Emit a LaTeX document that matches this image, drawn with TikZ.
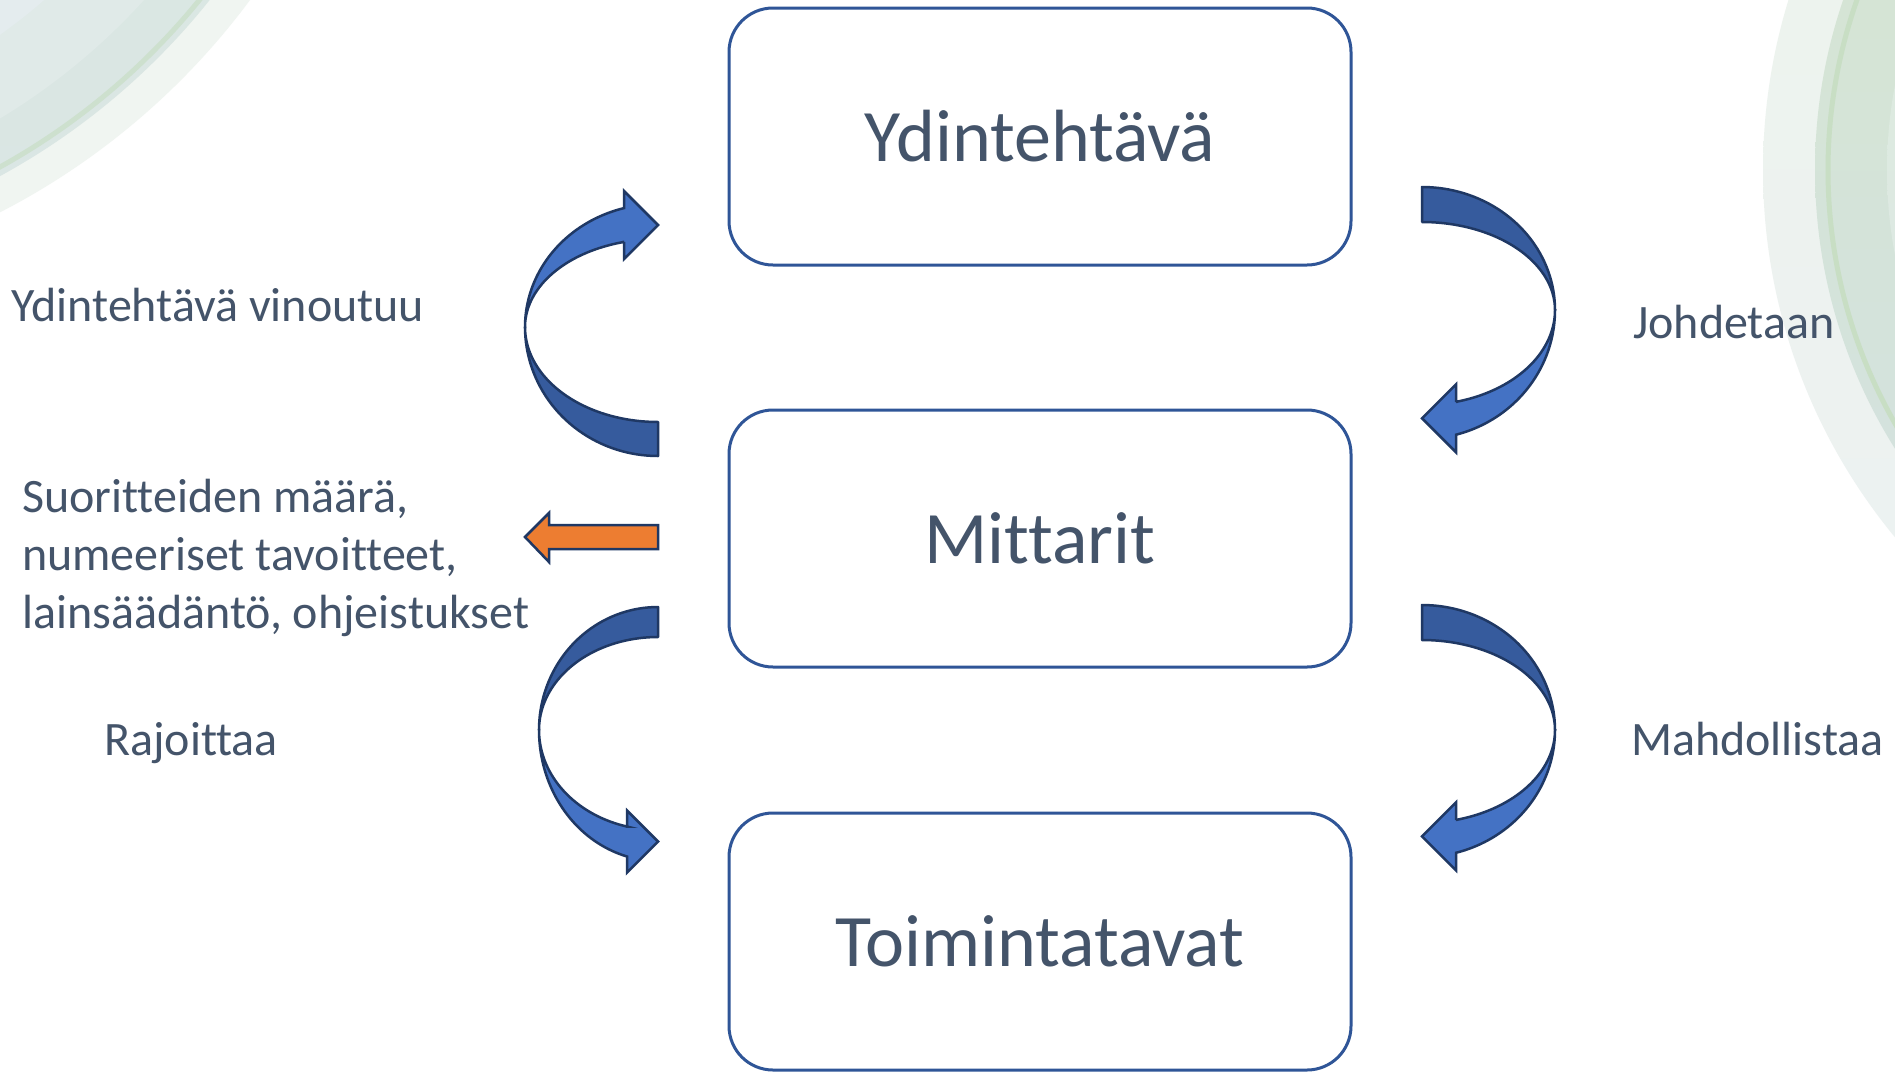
\documentclass[tikz,border=0pt]{standalone}
\usepackage{fontspec}
\setmainfont{Carlito}[Ligatures={NoCommon,NoContextual},Contextuals=NoAlternate]
\definecolor{boxline}{HTML}{2F5597}
\definecolor{textcol}{HTML}{44546A}
\definecolor{arrline}{HTML}{1F3864}
\definecolor{arrfront}{HTML}{4472C4}
\definecolor{arrback}{HTML}{365B9D}
\definecolor{arrorange}{HTML}{ED7D31}
\tikzset{
  box/.style={draw=boxline,line width=3pt,rounded corners=44pt,minimum width=622pt,minimum height=257pt,
    text=textcol,font=\fontsize{74}{88}\selectfont,inner sep=0pt},
  lbl/.style={text=textcol,font=\fontsize{48}{58}\selectfont,inner sep=0pt},
  backpart/.style={fill=arrback,draw=arrline,line width=2.5pt,line join=round},
  frontpart/.style={fill=arrfront,draw=arrline,line width=2.5pt,line join=miter},
  orangearr/.style={fill=arrorange,draw=arrline,line width=2.5pt,line join=miter}
}
% #1 centre, #2 xscale, #3 yscale, #4 rx, #5 back outer, #6 back inner, #7 front outer, #8 front inner, #9 head size
\newcommand\curvedarr[9]{%
  \begin{scope}[shift={(#1)},xscale=#2,yscale=#3]
    \pgfmathsetmacro\th{180+acos(#9/#4)}
    \pgfmathsetmacro\yo{#7*sin(\th)}
    \pgfmathsetmacro\yi{#8*sin(\th)}
    \pgfmathsetmacro\yc{(\yo+\yi)/2}
    \filldraw[backpart] (0,#5) -- plot[domain=90:180,samples=40] ({#4*cos(\x)},{#5*sin(\x)})
      -- plot[domain=180:90,samples=40] ({#4*cos(\x)},{#6*sin(\x)}) -- cycle;
    \filldraw[frontpart] (-#4,0) -- plot[domain=180:\th,samples=40] ({#4*cos(\x)},{#7*sin(\x)})
      -- (-#9,\yc-#9) -- (0,\yc) -- (-#9,\yc+#9) -- (-#9,\yi)
      -- plot[domain=\th:180,samples=40] ({#4*cos(\x)},{#8*sin(\x)}) -- cycle;
  \end{scope}}
\begin{document}
\begin{tikzpicture}[x=1pt,y=-1pt]
\useasboundingbox (0,0) rectangle (1895,1074);
\fill[white] (0,0) rectangle (1895,1074);
% background decorations
\begin{scope}
  \clip (0,0) rectangle (1895,1074);
  % top left
  \fill[color={rgb,255:red,240;green,245;blue,241}] (-330,-430) circle[radius=722];
  \shade[top color={rgb,255:red,220;green,233;blue,222},bottom color={rgb,255:red,218;green,230;blue,228}] (-330,-430) circle[radius=690];
  \draw[color={rgb,255:red,205;green,224;blue,206},line width=5pt] (-330,-430) circle[radius=682];
  \fill[color={rgb,255:red,224;green,234;blue,232}] (-330,-430) circle[radius=640];
  \fill[color={rgb,255:red,228;green,236;blue,238}] (-330,-430) circle[radius=570];
  % top right
  \shade[top color={rgb,255:red,238;green,244;blue,236},bottom color={rgb,255:red,236;green,241;blue,242}] (2340,170) circle[radius=577];
  \shade[top color={rgb,255:red,214;green,230;blue,206},bottom color={rgb,255:red,211;green,225;blue,226}] (2340,170) circle[radius=525];
  \draw[color={rgb,255:red,200;green,222;blue,196},line width=5pt] (2340,170) circle[radius=512];
  \shade[top color={rgb,255:red,222;green,235;blue,218},bottom color={rgb,255:red,220;green,232;blue,232}] (2340,170) circle[radius=453];
\end{scope}
% boxes
\node[box] (core) at (1040,136.5) {Ydintehtävä};
\node[box] (mit) at (1040,538.5) {Mittarit};
\node[box] (toim) at (1040,941.5) {Toimintatavat};
% curved arrows
\coordinate (cA) at (658,327);
\coordinate (cB) at (658,730);
\coordinate (cC) at (1422,310);
\coordinate (cD) at (1422,730);
\curvedarr{cA}{1}{1}{133}{129}{95}{123}{88}{34}
\curvedarr{cB}{1}{-1}{119}{123}{93}{131}{100}{31}
\curvedarr{cC}{-1}{-1}{133}{123}{88}{129}{95}{34}
\curvedarr{cD}{-1}{-1}{133}{125}{90}{127}{93}{34}
% orange arrow
\filldraw[orangearr] (658,525) -- (549,525) -- (549,513) -- (525,537) -- (549,562) -- (549,549) -- (658,549) -- cycle;
% labels
\node[lbl,anchor=base west] (l1) at (11,321) {Ydintehtävä vinoutuu};
\node[lbl,anchor=base west,align=left] (l2) at (22,628) {Suoritteiden määrä,\\numeeriset tavoitteet,\\lainsäädäntö, ohjeistukset};
\node[lbl,anchor=base west] (l3) at (104,755) {Rajoittaa};
\node[lbl,anchor=base west] (l4) at (1633,338) {Johdetaan};
\node[lbl,anchor=base west] (l5) at (1631,755) {Mahdollistaa};
\end{tikzpicture}
\end{document}
